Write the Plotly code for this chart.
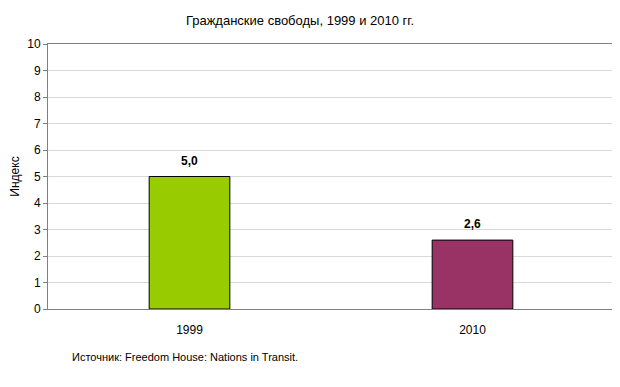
import plotly.graph_objects as go

categories = ["1999", "2010"]
values = [5.0, 2.6]
labels = ["5,0", "2,6"]
colors = ["#99CC00", "#993366"]
y_ticks = list(range(0, 11))

fig = go.Figure()
fig.add_trace(go.Bar(
    x=categories, y=values,
    marker=dict(color=colors, line=dict(color="#000000", width=1)),
    width=0.285,
))
for i, (v, t) in enumerate(zip(values, labels)):
    fig.add_annotation(x=i, y=v, text="<b>%s</b>" % t, showarrow=False, yanchor="middle",
                       yshift=16, font=dict(size=12, color="#000000"))

W, H = 612, 379
fig.update_layout(
    width=W, height=H,
    margin=dict(l=40, r=6, t=36, b=78, autoexpand=False),
    paper_bgcolor="white", plot_bgcolor="white",
    font=dict(family="Liberation Sans, Arial", size=12, color="#000000"),
    title=dict(text="Гражданские свободы, 1999 и 2010 гг.", x=292 / W, xanchor="center",
               y=1 - 12 / H, yanchor="middle", font=dict(size=13)),
    showlegend=False,
    bargap=0.7,
)
fig.update_yaxes(range=[0, 10], tickvals=y_ticks, showgrid=True, gridcolor="#D9D9D9", gridwidth=1,
                 showline=True, linecolor="#808080", linewidth=1, mirror=True,
                 ticks="outside", ticklen=4, tickcolor="#808080", automargin=False,
                 title=dict(text="Индекс", standoff=9, font=dict(size=12)),
                 tickfont=dict(size=12), zeroline=False)
fig.update_xaxes(type="category", range=[-0.5, len(categories) - 0.5],
                 showline=True, linecolor="#808080", linewidth=1, mirror=True,
                 ticks="outside", ticklen=10, tickcolor="rgba(0,0,0,0)", automargin=False,
                 tickfont=dict(size=12))
fig.add_annotation(text="Источник: Freedom House: Nations in Transit.", xref="paper", yref="paper",
                   x=(70 - 48) / 566, y=-(357 - 309) / 265, xanchor="left", yanchor="middle",
                   showarrow=False, font=dict(size=11))

fig.write_html("out.html")
